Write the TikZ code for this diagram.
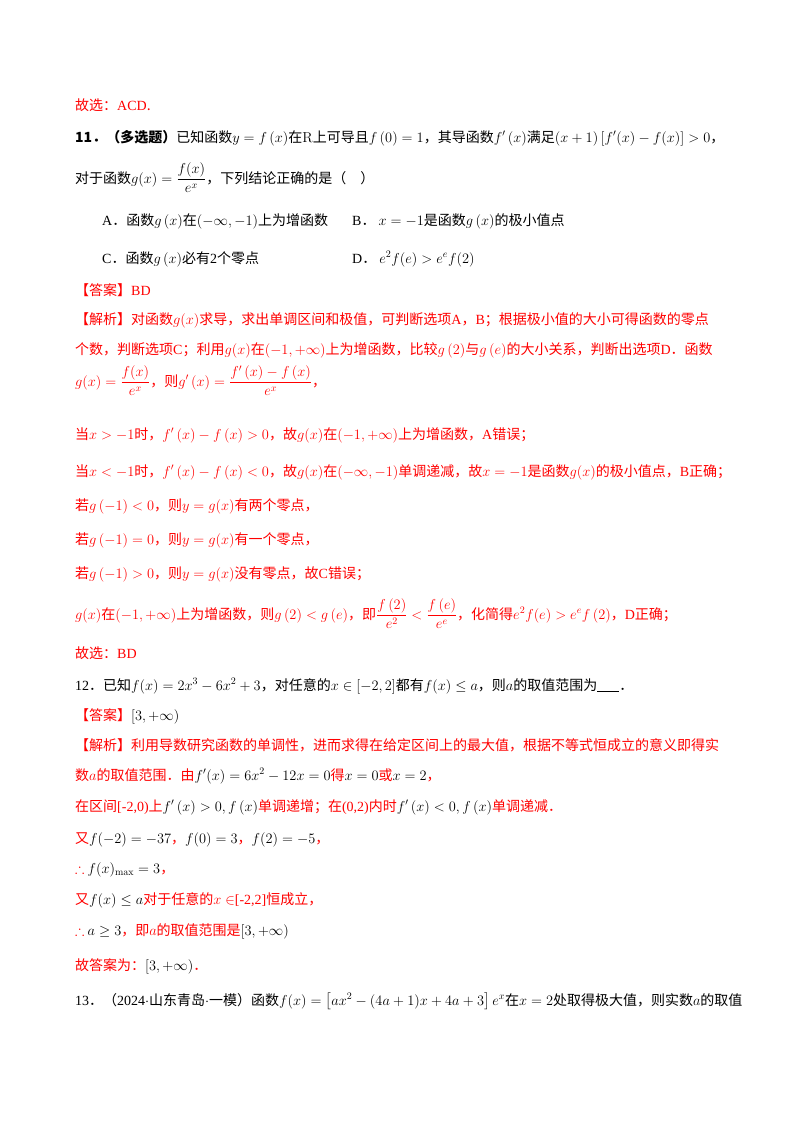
\documentclass[tikz,border=0pt]{standalone}
\usepackage[no-math]{fontspec}
\usepackage{amsmath,amssymb}
\setmainfont{Noto Sans CJK SC}
\newfontfamily\tms{Liberation Serif}
\definecolor{ans}{RGB}{255,0,0}
\tikzset{ln/.style={anchor=base west,inner sep=0pt,font=\fontsize{14}{16}\selectfont},rd/.style={ln,text=ans}}
\begin{document}
\begin{tikzpicture}[x=1pt,y=-1pt]
\useasboundingbox (0,0) rectangle (800,1132);
\node[rd] (l1) at (75,110) {故选：{\tms ACD}.};
\node[ln] (l2) at (75,142) {\textbf{11．（多选题）}已知函数$y=f\left(x\right)$在$\mathrm{R}$上可导且$f\left(0\right)=1$，其导函数$f'\left(x\right)$满足$(x+1)\left[f'(x)-f(x)\right]>0$，};
\node[ln] (l3) at (75,183) {对于函数$g(x)=\dfrac{f(x)}{e^x}$，下列结论正确的是（\quad）};
\node[ln] (l4) at (102,225) {{\tms A}．函数$g\left(x\right)$在$\left(-\infty,-1\right)$上为增函数};
\node[ln] (l4b) at (352,225) {{\tms B}．\ $x=-1$是函数$g\left(x\right)$的极小值点};
\node[ln] (l5) at (102,263) {{\tms C}．函数$g\left(x\right)$必有{\tms 2}个零点};
\node[ln] (l5b) at (352,263) {{\tms D}．\ $e^2f(e)>e^ef(2)$};
\node[rd] (l6) at (75,295) {【答案】{\tms BD}};
\node[rd] (l7) at (75,324) {【解析】对函数$g(x)$求导，求出单调区间和极值，可判断选项{\tms A}，{\tms B}；根据极小值的大小可得函数的零点};
\node[rd] (l8) at (75,354) {个数，判断选项{\tms C}；利用$g(x)$在$\left(-1,+\infty\right)$上为增函数，比较$g\left(2\right)$与$g\left(e\right)$的大小关系，判断出选项{\tms D}．函数};
\node[rd] (l9) at (75,386) {$g(x)=\dfrac{f(x)}{e^x}$，则$g'\left(x\right)=\dfrac{f'\left(x\right)-f\left(x\right)}{e^x}$，};
\node[rd] (l10) at (75,439) {当$x>-1$时，$f'\left(x\right)-f\left(x\right)>0$，故$g(x)$在$\left(-1,+\infty\right)$上为增函数，{\tms A}错误；};
\node[rd] (l11) at (75,476) {当$x<-1$时，$f'\left(x\right)-f\left(x\right)<0$，故$g(x)$在$\left(-\infty,-1\right)$单调递减，故$x=-1$是函数$g(x)$的极小值点，{\tms B}正确；};
\node[rd] (l12) at (75,510) {若$g\left(-1\right)<0$，则$y=g(x)$有两个零点，};
\node[rd] (l13) at (75,544) {若$g\left(-1\right)=0$，则$y=g(x)$有一个零点，};
\node[rd] (l14) at (75,578) {若$g\left(-1\right)>0$，则$y=g(x)$没有零点，故{\tms C}错误；};
\node[rd] (l15) at (75,619) {$g(x)$在$\left(-1,+\infty\right)$上为增函数，则$g\left(2\right)<g\left(e\right)$，即$\dfrac{f\left(2\right)}{e^2}<\dfrac{f\left(e\right)}{e^e}$，化简得$e^2f(e)>e^ef\left(2\right)$，{\tms D}正确；};
\node[rd] (l16) at (75,658) {故选：{\tms BD}};
\node[ln] (l17) at (75,690) {{\tms 12}．已知$f(x)=2x^3-6x^2+3$，对任意的$x\in[-2,2]$都有$f(x)\le a$，则$a$的取值范围为\rule[-2pt]{22pt}{0.8pt}．};
\node[rd] (l18) at (75,720) {【答案】\textcolor{black}{$[3,+\infty)$}};
\node[rd] (l19) at (75,750) {【解析】利用导数研究函数的单调性，进而求得在给定区间上的最大值，根据不等式恒成立的意义即得实};
\node[rd] (l20) at (75,780) {数$a$的取值范围．由\textcolor{black}{$f'(x)=6x^2-12x=0$}得\textcolor{black}{$x=0$}或\textcolor{black}{$x=2$}，};
\node[rd] (l21) at (75,811) {在区间{\tms[-2,0)}上\textcolor{black}{$f'\left(x\right)>0,f\left(x\right)$}单调递增；在{\tms(0,2)}内时\textcolor{black}{$f'\left(x\right)<0,f\left(x\right)$}单调递减．};
\node[rd] (l22) at (75,843) {又\textcolor{black}{$f(-2)=-37$}，\textcolor{black}{$f(0)=3$}，\textcolor{black}{$f(2)=-5$}，};
\node[rd] (l23) at (75,873) {$\therefore$ \textcolor{black}{$f(x)_{\max}=3$}，};
\node[rd] (l24) at (75,904) {又\textcolor{black}{$f(x)\le a$}对于任意的$x\in${\tms[-2,2]}恒成立，};
\node[rd] (l25) at (75,935) {$\therefore$ \textcolor{black}{$a\ge3$}，即$a$的取值范围是\textcolor{black}{$\left[3,+\infty\right)$}};
\node[rd] (l26) at (75,970) {故答案为：\textcolor{black}{$\left[3,+\infty\right)$}．};
\node[ln] (l27) at (75,1005) {{\tms 13}．（{\tms 2024}$\cdot$山东青岛$\cdot$一模）函数$f(x)=\left[ax^2-(4a+1)x+4a+3\right]e^x$在$x=2$处取得极大值，则实数$a$的取值};
\end{tikzpicture}
\end{document}
